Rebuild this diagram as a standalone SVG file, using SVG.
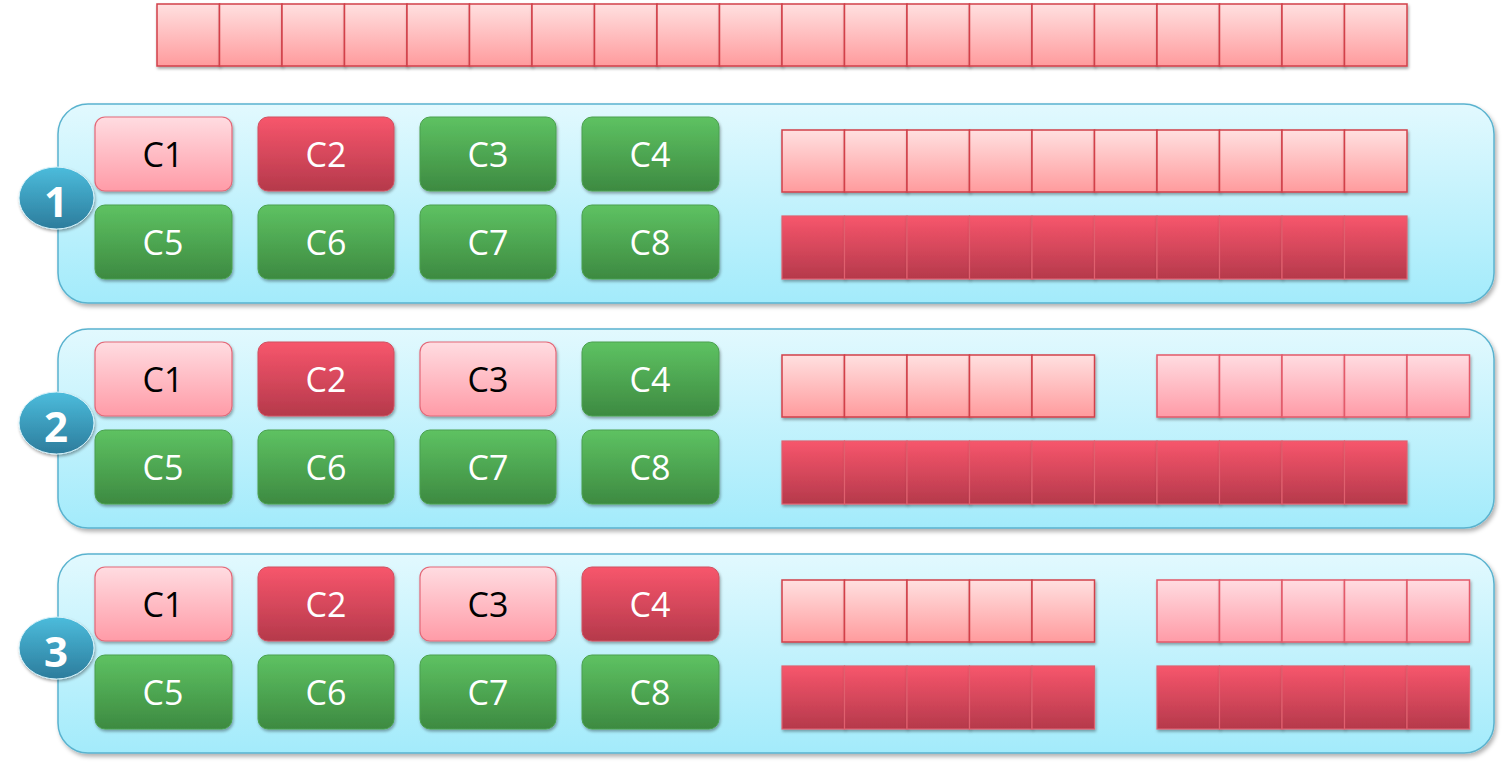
<svg xmlns="http://www.w3.org/2000/svg" width="1503" height="767" viewBox="0 0 1503 767">
<defs>
<linearGradient id="gPanel" x1="0" y1="0" x2="0" y2="1"><stop offset="0" stop-color="#e2f9fe"/><stop offset="1" stop-color="#a3ebfb"/></linearGradient>
<linearGradient id="gCell" x1="0" y1="0" x2="0" y2="1"><stop offset="0" stop-color="#ffe0e0"/><stop offset="1" stop-color="#ff9b9d"/></linearGradient>
<linearGradient id="gPink" x1="0" y1="0" x2="0" y2="1"><stop offset="0" stop-color="#ffdce1"/><stop offset="1" stop-color="#ff9ba7"/></linearGradient>
<linearGradient id="gRed" x1="0" y1="0" x2="0" y2="1"><stop offset="0" stop-color="#f7566c"/><stop offset="1" stop-color="#b5394b"/></linearGradient>
<linearGradient id="gGreen" x1="0" y1="0" x2="0" y2="1"><stop offset="0" stop-color="#5ec262"/><stop offset="1" stop-color="#3d8a41"/></linearGradient>
<linearGradient id="gBall" x1="0" y1="0" x2="0" y2="1"><stop offset="0" stop-color="#4cbcdc"/><stop offset="1" stop-color="#2c7c9c"/></linearGradient>
<filter id="sh" x="-20%" y="-20%" width="140%" height="150%"><feDropShadow dx="2" dy="3" stdDeviation="2" flood-color="#000" flood-opacity="0.3"/></filter>
<filter id="shs" x="-20%" y="-20%" width="140%" height="150%"><feDropShadow dx="1" dy="2" stdDeviation="1.5" flood-color="#000" flood-opacity="0.35"/></filter>
<style>
.panel{fill:url(#gPanel);stroke:#5ab3cf;stroke-width:1.5;filter:url(#sh)}
.cell{fill:url(#gCell);stroke:#d2404a;stroke-width:1.5;filter:url(#shs)}
.cellp{fill:url(#gPink);stroke:#e45a6a;stroke-width:1.5;filter:url(#shs)}
.cellr{fill:url(#gRed);stroke:#e0606e;stroke-width:1.2;filter:url(#shs)}
.bp{fill:url(#gPink);stroke:#e46878;stroke-width:1.2;filter:url(#shs)}
.br{fill:url(#gRed);stroke:#d05060;stroke-width:1;filter:url(#shs)}
.bg{fill:url(#gGreen);stroke:#4aa04e;stroke-width:1;filter:url(#shs)}
.ball{fill:url(#gBall);stroke:#d6f2fa;stroke-width:1;filter:url(#shs)}
.t{font-family:"Open Sans","Liberation Sans",sans-serif;font-size:34px;text-anchor:middle;fill:#fff}
.tk{fill:#000}
.n{font-family:"Open Sans","Liberation Sans",sans-serif;font-size:42px;font-weight:bold;text-anchor:middle;fill:#fff}
</style>
<g id="strip20">
<rect class="cell" x="0" y="0" width="62.5" height="62"/><rect class="cell" x="62.5" y="0" width="62.5" height="62"/><rect class="cell" x="125" y="0" width="62.5" height="62"/><rect class="cell" x="187.5" y="0" width="62.5" height="62"/><rect class="cell" x="250" y="0" width="62.5" height="62"/>
</g>
</defs>

<g id="top-strip">
<use href="#strip20" x="157" y="4"/><use href="#strip20" x="469.5" y="4"/><use href="#strip20" x="782" y="4"/><use href="#strip20" x="1094.5" y="4"/>
</g>

<!-- Panel 1 -->
<g id="panel1">
<rect class="panel" x="58" y="104" width="1436" height="199" rx="30"/>
<g id="p1-cores">
<rect class="bp" x="95" y="117" width="137" height="74" rx="10"/><text class="t tk" x="163" y="167">C1</text>
<rect class="br" x="258" y="117" width="136" height="74" rx="10"/><text class="t" x="326" y="167">C2</text>
<rect class="bg" x="420" y="117" width="136" height="74" rx="10"/><text class="t" x="488" y="167">C3</text>
<rect class="bg" x="582" y="117" width="137" height="74" rx="10"/><text class="t" x="650" y="167">C4</text>
<rect class="bg" x="95" y="205" width="137" height="74" rx="10"/><text class="t" x="163" y="255">C5</text>
<rect class="bg" x="258" y="205" width="136" height="74" rx="10"/><text class="t" x="326" y="255">C6</text>
<rect class="bg" x="420" y="205" width="136" height="74" rx="10"/><text class="t" x="488" y="255">C7</text>
<rect class="bg" x="582" y="205" width="137" height="74" rx="10"/><text class="t" x="650" y="255">C8</text>
</g>
<g id="p1-top">
<use href="#strip20" x="782" y="130"/><use href="#strip20" x="1094.5" y="130"/>
</g>
<g id="p1-bottom">
<rect class="cellr" x="782" y="216" width="62.5" height="63"/><rect class="cellr" x="844.5" y="216" width="62.5" height="63"/><rect class="cellr" x="907" y="216" width="62.5" height="63"/><rect class="cellr" x="969.5" y="216" width="62.5" height="63"/><rect class="cellr" x="1032" y="216" width="62.5" height="63"/><rect class="cellr" x="1094.5" y="216" width="62.5" height="63"/><rect class="cellr" x="1157" y="216" width="62.5" height="63"/><rect class="cellr" x="1219.5" y="216" width="62.5" height="63"/><rect class="cellr" x="1282" y="216" width="62.5" height="63"/><rect class="cellr" x="1344.5" y="216" width="62.5" height="63"/>
</g>
<g id="badge1"><ellipse class="ball" cx="56.5" cy="198" rx="37.5" ry="31"/><text class="n" x="56" y="217">1</text></g>
</g>

<!-- Panel 2 -->
<g id="panel2">
<rect class="panel" x="58" y="329" width="1436" height="199" rx="30"/>
<g id="p2-cores">
<rect class="bp" x="95" y="342" width="137" height="74" rx="10"/><text class="t tk" x="163" y="392">C1</text>
<rect class="br" x="258" y="342" width="136" height="74" rx="10"/><text class="t" x="326" y="392">C2</text>
<rect class="bp" x="420" y="342" width="136" height="74" rx="10"/><text class="t tk" x="488" y="392">C3</text>
<rect class="bg" x="582" y="342" width="137" height="74" rx="10"/><text class="t" x="650" y="392">C4</text>
<rect class="bg" x="95" y="430" width="137" height="74" rx="10"/><text class="t" x="163" y="480">C5</text>
<rect class="bg" x="258" y="430" width="136" height="74" rx="10"/><text class="t" x="326" y="480">C6</text>
<rect class="bg" x="420" y="430" width="136" height="74" rx="10"/><text class="t" x="488" y="480">C7</text>
<rect class="bg" x="582" y="430" width="137" height="74" rx="10"/><text class="t" x="650" y="480">C8</text>
</g>
<g id="p2-top">
<use href="#strip20" x="782" y="355"/>
<rect class="cellp" x="1157" y="355" width="62.5" height="62"/><rect class="cellp" x="1219.5" y="355" width="62.5" height="62"/><rect class="cellp" x="1282" y="355" width="62.5" height="62"/><rect class="cellp" x="1344.5" y="355" width="62.5" height="62"/><rect class="cellp" x="1407" y="355" width="62.5" height="62"/>
</g>
<g id="p2-bottom">
<rect class="cellr" x="782" y="441" width="62.5" height="63"/><rect class="cellr" x="844.5" y="441" width="62.5" height="63"/><rect class="cellr" x="907" y="441" width="62.5" height="63"/><rect class="cellr" x="969.5" y="441" width="62.5" height="63"/><rect class="cellr" x="1032" y="441" width="62.5" height="63"/><rect class="cellr" x="1094.5" y="441" width="62.5" height="63"/><rect class="cellr" x="1157" y="441" width="62.5" height="63"/><rect class="cellr" x="1219.5" y="441" width="62.5" height="63"/><rect class="cellr" x="1282" y="441" width="62.5" height="63"/><rect class="cellr" x="1344.5" y="441" width="62.5" height="63"/>
</g>
<g id="badge2"><ellipse class="ball" cx="56.5" cy="423" rx="37.5" ry="31"/><text class="n" x="56" y="442">2</text></g>
</g>

<!-- Panel 3 -->
<g id="panel3">
<rect class="panel" x="58" y="554" width="1436" height="199" rx="30"/>
<g id="p3-cores">
<rect class="bp" x="95" y="567" width="137" height="74" rx="10"/><text class="t tk" x="163" y="617">C1</text>
<rect class="br" x="258" y="567" width="136" height="74" rx="10"/><text class="t" x="326" y="617">C2</text>
<rect class="bp" x="420" y="567" width="136" height="74" rx="10"/><text class="t tk" x="488" y="617">C3</text>
<rect class="br" x="582" y="567" width="137" height="74" rx="10"/><text class="t" x="650" y="617">C4</text>
<rect class="bg" x="95" y="655" width="137" height="74" rx="10"/><text class="t" x="163" y="705">C5</text>
<rect class="bg" x="258" y="655" width="136" height="74" rx="10"/><text class="t" x="326" y="705">C6</text>
<rect class="bg" x="420" y="655" width="136" height="74" rx="10"/><text class="t" x="488" y="705">C7</text>
<rect class="bg" x="582" y="655" width="137" height="74" rx="10"/><text class="t" x="650" y="705">C8</text>
</g>
<g id="p3-top">
<use href="#strip20" x="782" y="580"/>
<rect class="cellp" x="1157" y="580" width="62.5" height="62"/><rect class="cellp" x="1219.5" y="580" width="62.5" height="62"/><rect class="cellp" x="1282" y="580" width="62.5" height="62"/><rect class="cellp" x="1344.5" y="580" width="62.5" height="62"/><rect class="cellp" x="1407" y="580" width="62.5" height="62"/>
</g>
<g id="p3-bottom">
<rect class="cellr" x="782" y="666" width="62.5" height="63"/><rect class="cellr" x="844.5" y="666" width="62.5" height="63"/><rect class="cellr" x="907" y="666" width="62.5" height="63"/><rect class="cellr" x="969.5" y="666" width="62.5" height="63"/><rect class="cellr" x="1032" y="666" width="62.5" height="63"/>
<rect class="cellr" x="1157" y="666" width="62.5" height="63"/><rect class="cellr" x="1219.5" y="666" width="62.5" height="63"/><rect class="cellr" x="1282" y="666" width="62.5" height="63"/><rect class="cellr" x="1344.5" y="666" width="62.5" height="63"/><rect class="cellr" x="1407" y="666" width="62.5" height="63"/>
</g>
<g id="badge3"><ellipse class="ball" cx="56.5" cy="648" rx="37.5" ry="31"/><text class="n" x="56" y="667">3</text></g>
</g>
</svg>
